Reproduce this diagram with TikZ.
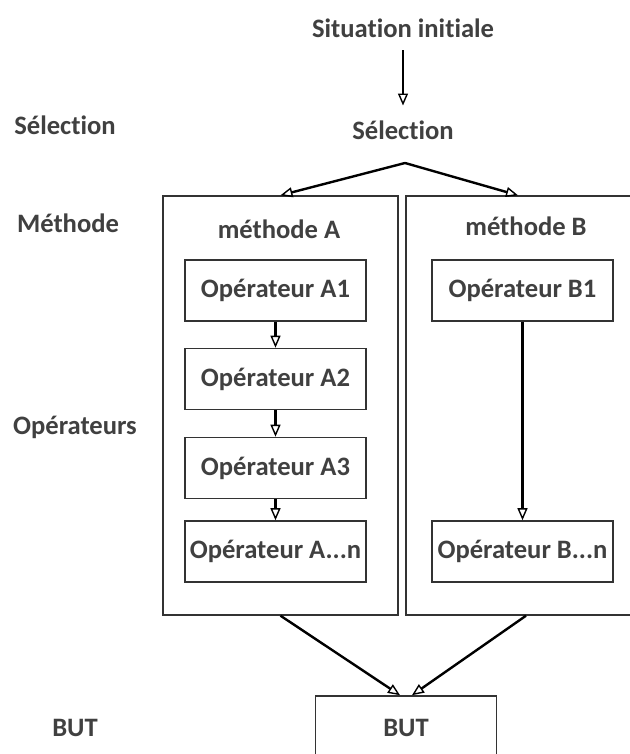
\documentclass[tikz,border=0pt]{standalone}
\usepackage{fontspec}
\setmainfont[Ligatures=NoCommon]{Carlito}
\usetikzlibrary{positioning, arrows.meta}
\definecolor{txtgray}{HTML}{404040}
\definecolor{linegray}{HTML}{333333}

\tikzset{
    lbl/.style={font=\bfseries\fontsize{13.3}{15}\selectfont, text=txtgray},
    opbox/.style={lbl, draw=linegray, line width=0.8pt, minimum width=90.5pt, minimum height=30.5pt, inner sep=0pt},
    methbox/.style={draw=linegray, line width=0.7pt, minimum height=209.5pt, inner sep=0pt},
    flow/.style={-{Triangle[open, length=6pt, width=5pt, line width=0.7pt]}, line width=1.2pt, draw=black},
}

\begin{document}
\begin{tikzpicture}[x=0.5pt, y=-0.5pt]
        \useasboundingbox (0,0) rectangle (629,754);

        % left column
        \node[lbl] (lsel) at (65,125) {Sélection};
        \node[lbl] (lmeth) at (68,223) {Méthode};
        \node[lbl] (lop) at (75,427) {Opérateurs};
        \node[lbl] (lbut) at (75,728) {BUT};

        % top
        \node[lbl] (sit) at (403,28) {Situation initiale};
        \node[lbl] (sel) at (403,130) {Sélection};
        \coordinate (fork) at (405,163);

        % methods
        \node[methbox, minimum width=117.5pt] (ma) at (280.5,405.5) {};
        \node[methbox, minimum width=120pt] (mb) at (526,405.5) {};
        \node[lbl] (mta) at (279,229) {méthode A};
        \node[lbl] (mtb) at (526,226) {méthode B};

        % operators
        \node[opbox] (a1) at (275.5,290.5) {Opérateur A1};
        \node[opbox] (a2) at (275.5,379) {Opérateur A2};
        \node[opbox] (a3) at (275.5,468) {Opérateur A3};
        \node[opbox] (an) at (275.5,551.5) {Opérateur A...n};
        \node[opbox] (b1) at (522.5,290.5) {Opérateur B1};
        \node[opbox] (bn) at (522.5,551.5) {Opérateur B...n};

        \node[opbox, minimum height=32pt] (but) at (406,728) {BUT};

        \draw[flow, shorten <=3pt, shorten >=4pt] (sit) -- (sel);
        \draw (fork) edge[flow] (ma.north)
        (fork) edge[flow] ([xshift=-4pt]mb.north)
        (a1) edge[flow] (a2)
        (a2) edge[flow] (a3)
        (a3) edge[flow] (an)
        (b1) edge[flow] (bn)
        (ma.south) edge[flow] ([xshift=-3pt]but.north)
        (mb.south) edge[flow] ([xshift=3pt]but.north)
        ;
\end{tikzpicture}
\end{document}
